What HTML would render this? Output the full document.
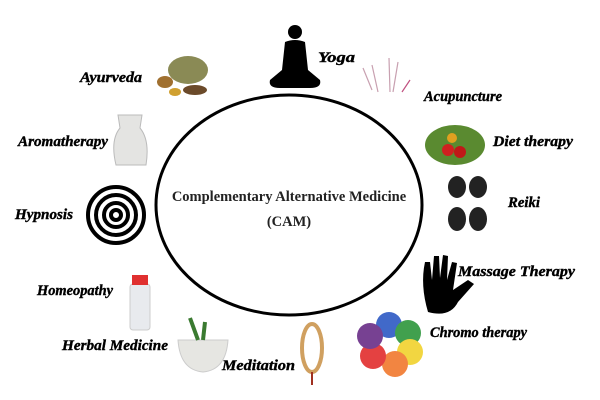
<!DOCTYPE html>
<html><head><style>
html,body{margin:0;padding:0;background:#fff;}
svg{display:block}
.l{font-family:"Liberation Serif",serif;font-style:italic;font-weight:bold;font-size:15px;fill:#000;stroke:#000;stroke-width:0.4}
.c{font-family:"Liberation Serif",serif;font-size:14.5px;fill:#222;font-weight:bold}
</style></head><body>
<svg width="600" height="400" viewBox="0 0 600 400">
<rect width="600" height="400" fill="#fff"/>
<ellipse cx="289" cy="205" rx="133" ry="110" fill="none" stroke="#000" stroke-width="3"/>
<text class="c" x="289" y="201" text-anchor="middle">Complementary Alternative Medicine</text>
<text class="c" x="289" y="226" text-anchor="middle">(CAM)</text>
<g fill="#000">
<circle cx="295" cy="32" r="7"/>
<path d="M285 42 Q295 38 305 42 L308 70 L320 80 Q322 88 310 88 L280 88 Q268 88 270 80 L282 70 Z"/>
</g>
<ellipse cx="188" cy="70" rx="20" ry="14" fill="#8a8a55"/>
<ellipse cx="165" cy="82" rx="8" ry="6" fill="#a07030"/>
<ellipse cx="195" cy="90" rx="12" ry="5" fill="#6b4a2a"/>
<ellipse cx="175" cy="92" rx="6" ry="4" fill="#d0a030"/>
<g stroke="#c8a0b0" stroke-width="1.2">
<line x1="363" y1="68" x2="372" y2="90"/><line x1="372" y1="65" x2="378" y2="92"/>
<line x1="389" y1="58" x2="390" y2="92"/><line x1="398" y1="62" x2="393" y2="92"/>
<line x1="410" y1="80" x2="402" y2="92" stroke="#c05080"/>
</g>
<path d="M118 115 L142 115 L140 128 Q150 140 146 165 L116 165 Q110 140 120 128 Z" fill="#e4e4e2" stroke="#bbb"/>
<ellipse cx="455" cy="145" rx="30" ry="20" fill="#5a8a30"/>
<circle cx="448" cy="150" r="6" fill="#d02020"/><circle cx="460" cy="152" r="6" fill="#c01818"/><circle cx="452" cy="138" r="5" fill="#e0a020"/>
<g fill="#222"><ellipse cx="457" cy="187" rx="9" ry="11"/><ellipse cx="478" cy="187" rx="9" ry="11"/><ellipse cx="457" cy="219" rx="9" ry="12"/><ellipse cx="478" cy="219" rx="9" ry="12"/></g>
<g fill="none" stroke="#000" stroke-width="4">
<circle cx="116" cy="215" r="28"/><circle cx="116" cy="215" r="20"/><circle cx="116" cy="215" r="12"/><circle cx="116" cy="215" r="5"/>
</g>
<path d="M428 312 Q420 285 425 262 L430 262 L432 280 L434 256 L439 256 L440 278 L443 255 L448 256 L447 280 L452 262 L457 263 L453 290 L468 280 L474 284 L458 302 Q450 318 428 312 Z" fill="#000"/>
<rect x="130" y="284" width="20" height="46" rx="3" fill="#e8eaee" stroke="#ccc"/>
<rect x="132" y="275" width="16" height="10" fill="#e03030"/>
<g opacity="0.85">
<circle cx="389" cy="325" r="13" fill="#2050c0"/><circle cx="408" cy="333" r="13" fill="#209030"/>
<circle cx="410" cy="352" r="13" fill="#f0d020"/><circle cx="395" cy="364" r="13" fill="#f07020"/>
<circle cx="373" cy="356" r="13" fill="#e02020"/><circle cx="370" cy="336" r="13" fill="#602080"/>
</g>
<path d="M178 340 L228 340 Q226 370 203 372 Q180 370 178 340 Z" fill="#e6e6e2" stroke="#ccc"/>
<path d="M190 318 L198 340 M205 322 L203 340" stroke="#3a7a30" stroke-width="4"/>
<ellipse cx="312" cy="348" rx="10" ry="24" fill="none" stroke="#d0a060" stroke-width="4"/>
<line x1="312" y1="372" x2="312" y2="385" stroke="#a03020" stroke-width="2"/>
<text class="l" x="318" y="62" textLength="37" lengthAdjust="spacingAndGlyphs">Yoga</text>
<text class="l" x="424" y="101" textLength="78" lengthAdjust="spacingAndGlyphs">Acupuncture</text>
<text class="l" x="80" y="82" textLength="62" lengthAdjust="spacingAndGlyphs">Ayurveda</text>
<text class="l" x="18" y="146" textLength="90" lengthAdjust="spacingAndGlyphs">Aromatherapy</text>
<text class="l" x="493" y="146" textLength="80" lengthAdjust="spacingAndGlyphs">Diet therapy</text>
<text class="l" x="508" y="207" textLength="32" lengthAdjust="spacingAndGlyphs">Reiki</text>
<text class="l" x="15" y="219" textLength="58" lengthAdjust="spacingAndGlyphs">Hypnosis</text>
<text class="l" x="458" y="276" textLength="117" lengthAdjust="spacingAndGlyphs">Massage Therapy</text>
<text class="l" x="37" y="295" textLength="76" lengthAdjust="spacingAndGlyphs">Homeopathy</text>
<text class="l" x="430" y="337" textLength="97" lengthAdjust="spacingAndGlyphs">Chromo therapy</text>
<text class="l" x="62" y="350" textLength="106" lengthAdjust="spacingAndGlyphs">Herbal Medicine</text>
<text class="l" x="222" y="370" textLength="73" lengthAdjust="spacingAndGlyphs">Meditation</text>
</svg>
</body></html>
